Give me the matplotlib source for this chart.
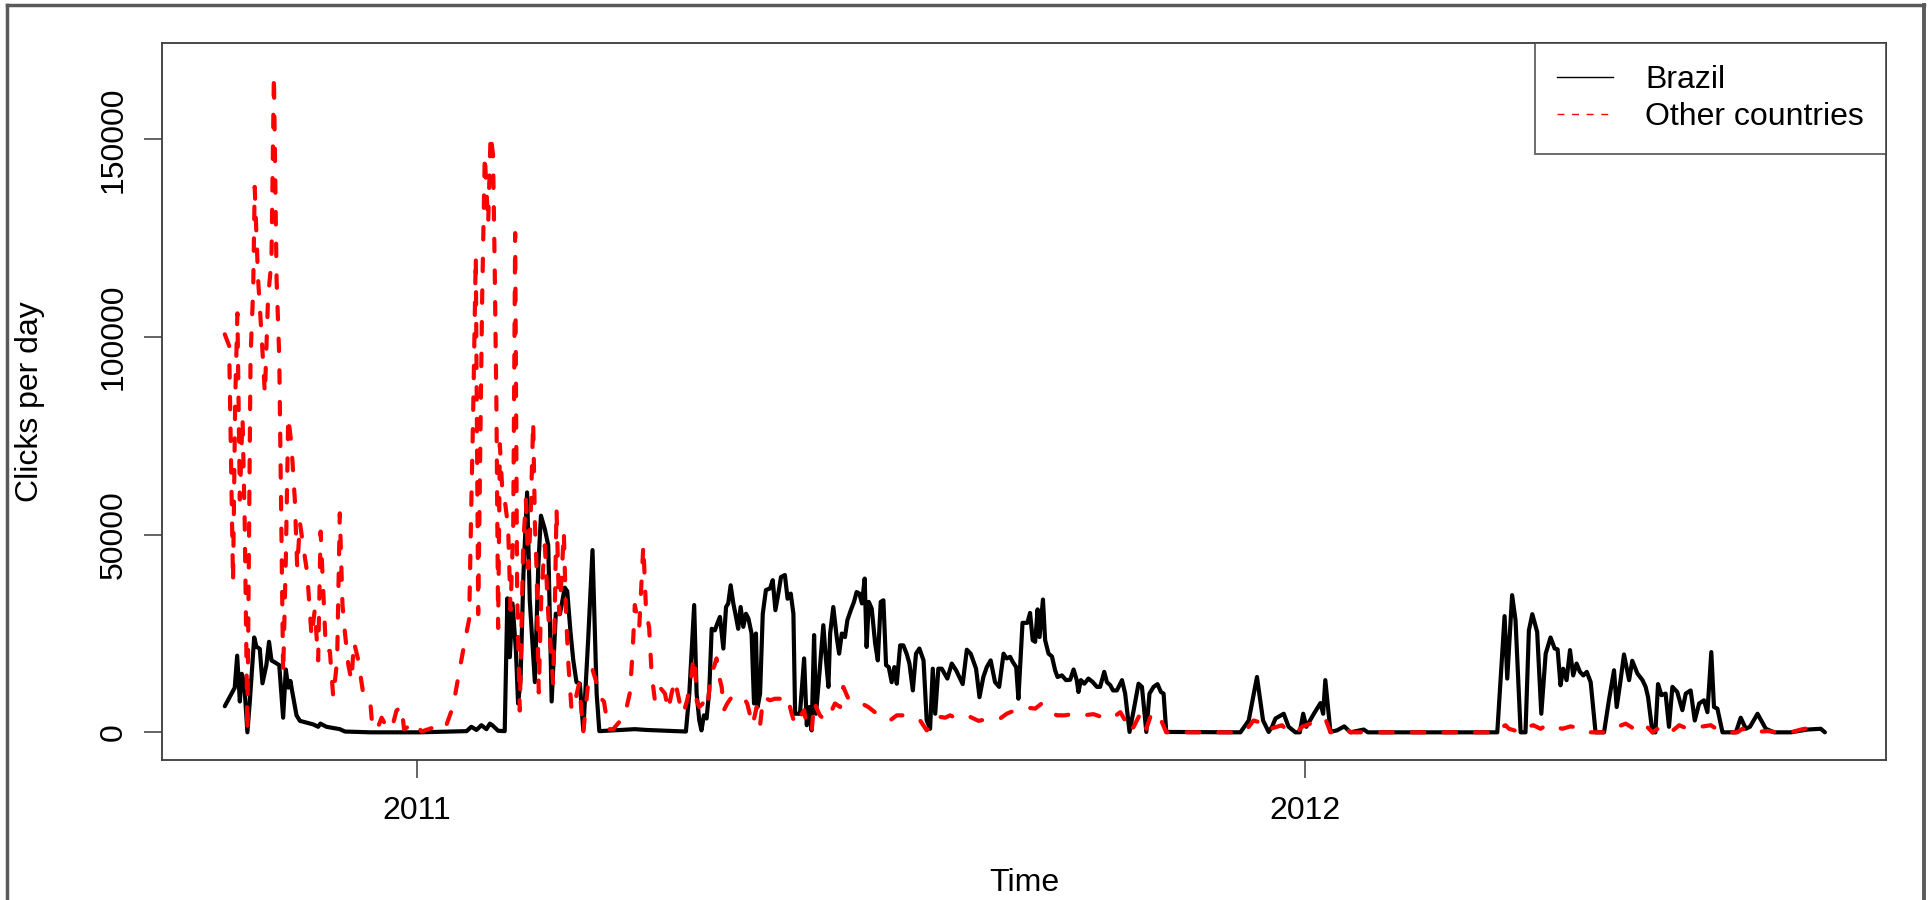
import matplotlib
matplotlib.use("Agg")
import matplotlib.pyplot as plt
from matplotlib.lines import Line2D

# daily series, day 0 = start of the series (decimal year below)
start_year = 2010.7837

brazil_day = [
    0, 4.1, 5.1, 6.2, 7, 8, 9.3, 10.3, 12.1, 13,
    14.4, 15.5, 17.1, 18.2, 19.2, 20.6, 22.4, 24, 25.1, 26.1,
    27, 27.8, 29.5, 30.9, 36.4, 38.4, 39.3, 41.8, 47.3, 49.4,
    60, 80, 99.4, 101.4, 103.5, 105.5, 107.6, 109, 110, 112.4,
    115.1, 116.2, 117.2, 118.3, 119.7, 120.6, 121.6, 122.8, 124.3, 125.4,
    127.5, 128.9, 130, 131.6, 133, 134.4, 136.1, 137.8, 139.8, 140.8,
    142.2, 143.3, 144.6, 146, 147.4, 149.4, 151.2, 152.9, 154, 168.6,
    173.4, 189.6, 191, 193, 194, 195.1, 196, 197, 198.1, 199.2,
    200.2, 201.5, 202.5, 203.6, 205, 206.1, 207, 208, 209.1, 210.2,
    211.1, 212.1, 213.2, 214.3, 215.3, 216.6, 217.6, 218.4, 219.1, 220.1,
    221.2, 222.5, 224.2, 225.3, 226.4, 227.6, 228.7, 230.3, 231.4, 232.7,
    233.8, 234.5, 236.5, 238.2, 239.3, 240.4, 241.3, 242.3, 243.1, 244.5,
    246.1, 247.2, 248.2, 248.9, 250.2, 251.6, 252.6, 253.7, 255, 256,
    257.4, 258.7, 259.8, 260.9, 262, 263.1, 263.9, 264.8, 266, 267.4,
    268.5, 269.7, 270.8, 271.9, 273, 274.2, 275.3, 276.3, 277.7, 279,
    280.4, 281.5, 282.9, 284.2, 285.6, 287.3, 288.6, 290, 291.1, 292.1,
    293.4, 294.8, 297.1, 298.9, 300.7, 303.4, 305.1, 306.7, 308.9, 310.3,
    311.9, 313.3, 314.9, 316.7, 318.4, 320.2, 321.5, 322.9, 324, 325.4,
    326.3, 328, 330, 331.1, 332.2, 333.2, 334.2, 335, 336.4, 337.3,
    338.7, 340.1, 341.4, 342.4, 344.2, 345.9, 347.6, 349, 350.3, 351,
    352, 353.4, 355.1, 356.9, 358.6, 359.9, 361.6, 362.7, 364.1, 365.2,
    366.8, 368.9, 370.2, 372, 373.7, 375.7, 377.1, 378.9, 380.2, 381.9,
    383.5, 384.9, 386, 387.1, 417.6, 421, 424.4, 426.9, 429.2, 430.6,
    432, 435.4, 437.4, 440.2, 442, 443.4, 444.7, 447.8, 450.5, 451.6,
    452.5, 454.6, 457.3, 460.3, 462.8, 468.3, 470, 523.2, 526.2, 527.3,
    529.3, 530.7, 532.8, 534.8, 536.2, 537.6, 539.6, 541.3, 543.1, 545.1,
    546.8, 548, 549.2, 550.3, 551.7, 553.1, 554.4, 555.8, 557.2, 558.6,
    560, 561.6, 563.6, 567.1, 569.1, 571.2, 572.3, 573.7, 575.3, 577.4,
    578.7, 580.8, 582.9, 584.2, 585.2, 587, 588.2, 589.3, 590.7, 592.4,
    593.8, 595.2, 597.2, 599.3, 600.7, 602.7, 604.4, 606.2, 608.2, 609.6,
    611.2, 612.3, 613.7, 615.8, 621.3, 623.3, 625.4, 627.1, 630.2, 633.6,
    637, 643.9, 650.7, 656.2, 657.9,
]
brazil_clicks = [
    6600, 11300, 19400, 7800, 14800, 12400, 0, 7800, 24000, 21700,
    21100, 12400, 17000, 22900, 18200, 17700, 17000, 3700, 15900, 11300,
    13000, 10100, 4300, 2900, 2000, 1400, 2200, 1400, 800, 200,
    0, 0, 300, 1400, 600, 1800, 800, 2200, 1800, 400,
    300, 33900, 19000, 32600, 20800, 7300, 13200, 40000, 60700, 33400,
    12700, 41900, 54800, 51400, 47300, 7800, 30000, 29900, 36600, 35700,
    25000, 18200, 12700, 12300, 500, 23300, 46100, 9800, 300, 800,
    600, 200, 9800, 32200, 9800, 3000, 500, 4300, 3500, 10600,
    26200, 25800, 27500, 29200, 21200, 31700, 32600, 37200, 32600, 29200,
    26200, 31700, 26700, 30000, 28800, 25000, 7300, 25000, 6400, 9800,
    30000, 36000, 36400, 38500, 30900, 35100, 39300, 39800, 33800, 35100,
    30000, 4700, 4700, 18700, 1800, 6400, 500, 24600, 4700, 14900,
    27100, 18200, 11500, 25000, 31700, 24100, 19900, 25000, 24100, 28400,
    30900, 33000, 35500, 35100, 32600, 38900, 21600, 33000, 31300, 22500,
    18200, 33000, 33400, 17000, 16500, 12700, 16500, 12300, 22000, 22000,
    19800, 17400, 10600, 19900, 21200, 18200, 3000, 900, 16100, 4700,
    16100, 16100, 13600, 17400, 15700, 12200, 20900, 19900, 16100, 8900,
    14000, 16500, 18200, 12700, 11500, 19900, 18700, 19100, 17800, 16500,
    8500, 27700, 27700, 30200, 23300, 22900, 31100, 24100, 33600, 23300,
    19900, 19200, 15700, 14000, 14400, 13200, 13300, 15900, 13200, 10200,
    13200, 12300, 13600, 12700, 11500, 11500, 15300, 12700, 11900, 10600,
    10600, 13200, 9800, 100, 5600, 12300, 11500, 100, 9800, 11500,
    12200, 10200, 9800, 100, 0, 3000, 14000, 3000, 100, 1400,
    3500, 4700, 1400, 0, 0, 4700, 1400, 4700, 7400, 4700,
    13200, 100, 500, 1500, 0, 700, 0, 0, 29400, 13600,
    34700, 28400, 0, 0, 25800, 29900, 25400, 4700, 19900, 24000,
    21200, 21000, 11900, 16100, 13200, 20800, 14400, 17400, 15300, 14400,
    15300, 12700, 0, 0, 8100, 15700, 6400, 12300, 19700, 13200,
    18100, 14900, 13200, 11500, 8900, 0, 0, 12200, 9400, 9800,
    1400, 11500, 10200, 5600, 9800, 10600, 3000, 7300, 8100, 5100,
    20300, 6400, 6000, 0, 0, 3700, 900, 1400, 4700, 900,
    0, 0, 700, 900, 0,
]

other_day = [
    0, 1.8, 3.4, 4.3, 5.2, 6.2, 7.3, 8.2, 9.3, 10.6,
    11.7, 12.3, 13.7, 15.1, 16.5, 17.8, 19.2, 20.2, 21.3, 22.4,
    24, 25.1, 26.1, 27.4, 28.8, 29.8, 30.9, 32.2, 33.9, 35.7,
    37, 38.4, 39.4, 40.5, 41.6, 43.2, 44.6, 46.2, 47.3, 48.4,
    49.4, 50.8, 52.1, 53.1, 54.9, 56.7, 58.3, 59.9, 60.6, 62.5,
    64.5, 66.5, 68.6, 70.6, 72.7, 73.7, 75.4, 78.2, 80.9, 85.7,
    90.5, 93.9, 95.9, 98.3, 100.5, 101.4, 102.1, 103.2, 104.2, 105.8,
    106.9, 108.3, 109.3, 110.3, 111, 111.7, 112.4, 113.1, 114.2, 115.1,
    116.5, 117.5, 118.6, 119.4, 120.2, 121.3, 122.7, 123.8, 124.8, 125.7,
    126.8, 127.5, 128.2, 129.1, 130.2, 131.6, 133, 134.4, 135, 135.7,
    136.4, 137.5, 138.5, 139.4, 140.3, 141.3, 142.6, 144, 145.7, 147.4,
    149.4, 151.2, 152.9, 154.2, 155.9, 157.7, 159.7, 164.5, 166.6, 167.7,
    168.6, 170.4, 172.1, 173.2, 174.5, 175.5, 176.9, 179, 181, 182.3,
    183.7, 185.1, 187.1, 188.5, 190.1, 191.5, 192.6, 193.3, 194, 195.1,
    196.5, 197.4, 198.8, 199.7, 201.1, 202.2, 203.3, 204.3, 205.2, 206.6,
    208.4, 210.7, 213.2, 214.8, 217, 218.7, 220.1, 221.4, 224.2, 226.2,
    228.3, 230.3, 231.7, 233.1, 234.5, 236.5, 238.2, 239.3, 241.3, 242.3,
    243.4, 244.7, 246.8, 248.2, 250.9, 253, 254.3, 256.4, 259.1, 261.9,
    264.6, 268.1, 270.8, 273.5, 276.3, 279.7, 283.1, 285.9, 288.6, 290.7,
    292.1, 294.1, 296.2, 298.2, 301, 305.8, 309.9, 314.7, 318.8, 321.5,
    325, 327.7, 330.5, 333.2, 335.9, 338.7, 342.1, 345.5, 349, 353.1,
    357.2, 361.3, 364.7, 368.2, 370.2, 372, 373.7, 376.4, 378.9, 381.2,
    385.3, 387.1, 417.6, 421, 423, 425.1, 427.8, 429.9, 432.6, 434.7,
    437.4, 440.9, 442.9, 446.4, 449.8, 452.5, 454.6, 458.7, 460.8, 463,
    523.2, 525.2, 526.6, 528, 532.8, 535.5, 538, 541, 543.7, 546.5,
    550, 553.3, 556.1, 560.2, 567.8, 572.6, 576, 579.4, 583.5, 587,
    590.4, 594.5, 598, 601.4, 606.9, 611, 613.7, 615.8, 621.9, 624,
    626.7, 634.3, 638.4, 643.9, 648, 652.1, 656.2,
]
other_clicks = [
    100700, 97800, 38000, 84500, 106000, 58900, 79800, 53100, 0, 95000,
    112400, 138000, 114700, 100700, 85600, 110000, 119300, 166400, 114700, 95000,
    14800, 43800, 79800, 72900, 58900, 41500, 53100, 47300, 40300, 24100,
    31000, 18200, 50800, 35700, 20600, 20600, 8900, 18200, 55400, 32200,
    25200, 17100, 13000, 22900, 18200, 10700, 7800, 7200, 2000, 500,
    3700, 1400, 800, 5500, 6600, 800, 1400, 2600, 200, 1200,
    800, 6600, 13600, 21700, 28700, 58900, 79800, 120500, 29900, 108900,
    146100, 128600, 151300, 146100, 117000, 82200, 26400, 72900, 60100, 58900,
    51900, 31000, 51900, 126300, 35700, 5500, 47300, 58900, 41500, 53100,
    78700, 53100, 41500, 10100, 35700, 47300, 29900, 18200, 12400, 31000,
    56600, 29900, 39200, 50800, 29900, 17100, 5500, 7800, 12400, 0,
    12400, 15900, 12400, 8900, 7800, 800, 800, 4300, 10100, 20600,
    32200, 26400, 47300, 31000, 26400, 14800, 7800, 11300, 9800, 5600,
    9800, 13200, 7300, 4700, 8100, 12300, 18200, 19100, 8100, 6400,
    7300, 5600, 8100, 14900, 16500, 18700, 14000, 11500, 5600, 7300,
    8900, 9400, 8900, 7300, 1800, 6400, 1800, 8900, 8100, 8500,
    8500, 9400, 8100, 4700, 1800, 3900, 5600, 1400, 100, 7700,
    6000, 4300, 3000, 3900, 7300, 6400, 11500, 8500, 7300, 7300,
    6400, 4700, 3900, 3000, 4300, 4300, 3500, 3000, 500, 1800,
    3500, 3900, 3700, 4300, 3500, 4100, 2900, 3500, 3500, 4700,
    5600, 5700, 6200, 6000, 7300, 5600, 4300, 4300, 4700, 4300,
    4600, 3700, 3500, 5100, 3000, 100, 1400, 4700, 900, 5100,
    2600, 0, 0, 1400, 3000, 2600, 500, 900, 1400, 1800,
    0, 0, 1400, 2200, 3000, 3500, 0, 300, 900, 0,
    0, 1400, 1800, 900, 0, 1400, 1800, 900, 1900, 1400,
    900, 1500, 1200, 0, 0, 1400, 2200, 900, 2200, 0,
    1400, 0, 1800, 900, 1400, 1800, 700, 0, 0, 900,
    0, 300, 0, 0, 700, 1200, 900,
]

series_names = ["Brazil", "Other countries"]
year_ticks = [2011, 2012]
y_ticks = [0, 50000, 100000, 150000]

plt.rcParams["font.family"] = ["Liberation Sans", "DejaVu Sans"]
frame_col = "#3a3a3a"
fs = 23

brazil_t = [start_year + d / 365.0 for d in brazil_day]
other_t = [start_year + d / 365.0 for d in other_day]

fig = plt.figure(figsize=(19.3, 9.0), dpi=100)
ax = fig.add_axes([0.08394, 0.15556, 0.89326, 0.79667])

ax.plot(brazil_t, brazil_clicks, color="black", lw=3.0,
        solid_joinstyle="round", solid_capstyle="round")
red, = ax.plot(other_t, other_clicks, color="red", lw=3.0,
               dash_capstyle="round", dash_joinstyle="round")
red.set_dashes([3.0, 4.6])

ax.set_xlim(2010.713, 2012.655)
ax.set_ylim(-7000, 174400)
ax.set_xticks(year_ticks)
ax.set_xticklabels([str(y) for y in year_ticks])
ax.set_yticks(y_ticks)
ax.set_yticklabels([str(v) for v in y_ticks], rotation=90, va="center")

ax.tick_params(axis="both", direction="out", length=13, width=1.1,
               color=frame_col, labelsize=fs)
ax.tick_params(axis="x", pad=13)
ax.tick_params(axis="y", pad=11)
for sp in ax.spines.values():
    sp.set_color(frame_col)
    sp.set_linewidth(1.3)

ax.set_xlabel("Time", fontsize=fs, va="center")
ax.xaxis.set_label_coords(0.5, -0.1716)
ax.set_ylabel("Clicks per day", fontsize=fs, va="center")
ax.yaxis.set_label_coords(-0.0766, 0.5)

handles = [Line2D([], [], color="black", lw=1),
           Line2D([], [], color="red", lw=1, dashes=[5, 5.5])]
leg = ax.legend(handles, series_names, loc="upper right", fontsize=fs,
                frameon=True, fancybox=False, borderaxespad=0,
                borderpad=0.7, labelspacing=0.2, handlelength=1.75,
                handletextpad=1.0)
leg.get_frame().set_edgecolor(frame_col)
leg.get_frame().set_linewidth(1.3)

# grey border of the original window
border = "#5a5a5a"
fig.add_artist(Line2D([0.0036, 0.0036], [-0.1, 0.9944], color=border, lw=2.5,
                      transform=fig.transFigure))
fig.add_artist(Line2D([0.0036, 0.9971], [0.9944, 0.9944], color=border, lw=2.5,
                      transform=fig.transFigure))
fig.add_artist(Line2D([0.9971, 0.9971], [-0.1, 0.9944], color=border, lw=2.8,
                      transform=fig.transFigure))

fig.savefig("out.png", dpi=100)
